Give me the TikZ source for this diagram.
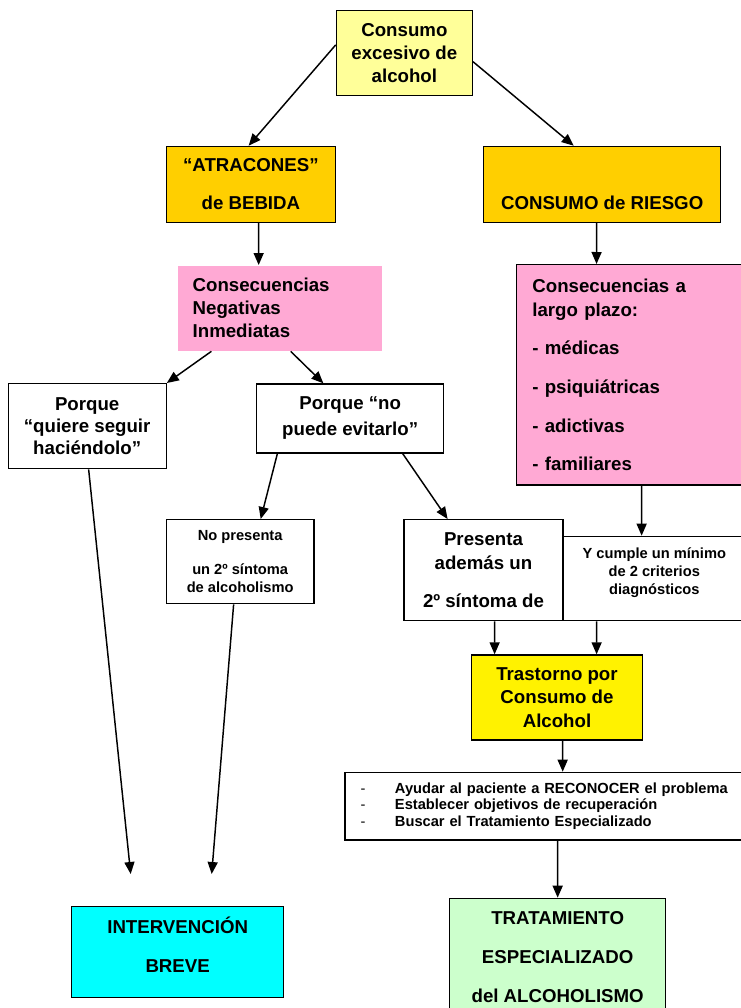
\documentclass[tikz,border=0pt]{standalone}
\usepackage{fontspec}
\setmainfont{Liberation Sans}
\usepackage{tikz}
\usetikzlibrary{positioning, arrows.meta}

\definecolor{amarillo}{HTML}{FFFF99}
\definecolor{oro}{HTML}{FFCF00}
\definecolor{rosa}{HTML}{FFA9D4}
\definecolor{verde}{HTML}{CCFFCC}
\definecolor{celeste}{HTML}{00FFFF}
\newcommand{\guion}{\makebox[25.7pt][l]{\mdseries -}}

\begin{document}
\begin{tikzpicture}[x=0.75pt, y=-0.75pt,
	every node/.style={font=\bfseries\fontsize{14}{16.5}\selectfont},
	small/.style={font=\bfseries\fontsize{11}{13.5}\selectfont},
	box/.style={draw, line width=1pt, anchor=north west, align=center},
	leftbox/.style={box, align=left, inner xsep=11.8pt},
	arr/.style={line width=1.1pt, -{Triangle[length=9pt, width=7.5pt]}}]
	\useasboundingbox (0,0) rectangle (741,1008);

	% first levels
	\node[box, fill=amarillo, minimum width=102pt, minimum height=63.75pt] (consumo) at (335.7,10) {Consumo\\[1pt]excesivo de\\[1pt]alcohol};
	\node[box, fill=oro, minimum width=127.1pt, minimum height=57pt] (atracones) at (165.5,145.7) {“ATRACONES”\\[12pt]de BEBIDA};
	\node[box, fill=oro, minimum width=177.75pt, minimum height=57pt] (riesgo) at (483,145.7) {\phantom{X}\\[12pt]CONSUMO de RIESGO};
	\node[leftbox, draw=none, fill=rosa, inner xsep=11.25pt, text width=130.5pt, minimum height=63.75pt] (inmediatas) at (177,265) {Consecuencias\\[0.75pt]Negativas\\[0.75pt]Inmediatas};
	\node[leftbox, fill=rosa, text width=148pt, minimum height=165.2pt] (largo) at (516,264) {Consecuencias a\\[1.5pt]largo plazo:\\[12.4pt]- médicas\\[12.4pt]- psiquiátricas\\[12.4pt]- adictivas\\[12.4pt]- familiares};

	% why
	\node[box, minimum width=118.5pt, minimum height=63.75pt] (quiere) at (7.5,383) {Porque\\“quiere seguir\\haciéndolo”};
	\node[box, minimum width=140.25pt, minimum height=51.75pt] (nopuede) at (256,383.3) {Porque “no\\[3pt]puede evitarlo”};
	\node[box, small, minimum width=110.7pt, minimum height=63pt] (nopresenta) at (165.7,519) {No presenta\\[11.5pt]un 2º síntoma\\de alcoholismo};
	\node[box, minimum width=119.25pt, minimum height=75.75pt] (presenta) at (403.3,519) {Presenta\\[1.3pt]además un\\[12.2pt]2º síntoma de};
	\node[box, small, minimum width=137pt, minimum height=63.2pt] (cumple) at (562.3,535.7) {Y cumple un mínimo\\de 2 criterios\\diagnósticos\\[-2pt]\phantom{X}};

	% diagnosis and treatment
	\node[box, fill=yellow, minimum width=128pt, minimum height=63.75pt] (trastorno) at (471,654.3) {Trastorno por\\[1pt]Consumo de\\[1pt]Alcohol};
	\node[leftbox, small, text width=282pt, minimum height=50.7pt] (ayudar) at (344.3,771.7) {\guion Ayudar al paciente a RECONOCER el problema\\[-0.9pt]\guion Establecer objetivos de recuperación\\[-0.9pt]\guion Buscar el Tratamiento Especializado};
	\node[box, fill=verde, minimum width=162pt, minimum height=88.7pt] (tratamiento) at (449,897.7) {TRATAMIENTO\\[12.75pt]ESPECIALIZADO\\[12.75pt]del ALCOHOLISMO};
	\node[box, fill=celeste, minimum width=159pt, minimum height=68.25pt] (breve) at (71,905.7) {INTERVENCIÓN\\[12.75pt]BREVE\\[-6.5pt]\phantom{X}};
	\coordinate (breve1) at (130.7,874);
	\coordinate (breve2) at (211.7,874);

	% arrows
	\draw[arr] ([yshift=6.2pt]consumo.west) -- ([xshift=-1.7pt]atracones.north);
	\draw[arr] ([yshift=-6.4pt]consumo.east) -- ([xshift=-21.4pt]riesgo.north);
	\draw[arr] ([xshift=5.8pt]atracones.south) -- ([xshift=-15.75pt]inmediatas.north);
	\draw[arr] ([xshift=-4.1pt]riesgo.south) -- ([xshift=-25.9pt]largo.north);
	\draw[arr] ([xshift=-51.2pt]inmediatas.south) -- (quiere.north east);
	\draw[arr] ([xshift=8.25pt]inmediatas.south) -- ([xshift=-20.1pt]nopuede.north);
	\draw[arr] ([xshift=-54.6pt]nopuede.south) -- ([xshift=15.4pt]nopresenta.north);
	\draw[arr] ([xshift=39.4pt]nopuede.south) -- ([xshift=-26.9pt]presenta.north);
	\draw[arr] ([xshift=7.9pt]largo.south) -- ([xshift=-9.5pt]cumple.north);
	\draw[arr] ([xshift=8.4pt]presenta.south) -- ([xshift=-46.8pt]trastorno.north);
	\draw[arr] ([xshift=-43.2pt]cumple.south) -- ([xshift=29.7pt]trastorno.north);
	\draw[arr] ([xshift=4.2pt]trastorno.south) -- ([xshift=10.5pt]ayudar.north);
	\draw[arr] ([xshift=6.75pt]ayudar.south) -- (tratamiento.north);
	\draw[arr] ([xshift=1.1pt]quiere.south) -- (breve1);
	\draw[arr] ([xshift=-4.9pt]nopresenta.south) -- (breve2);
\end{tikzpicture}
\end{document}
